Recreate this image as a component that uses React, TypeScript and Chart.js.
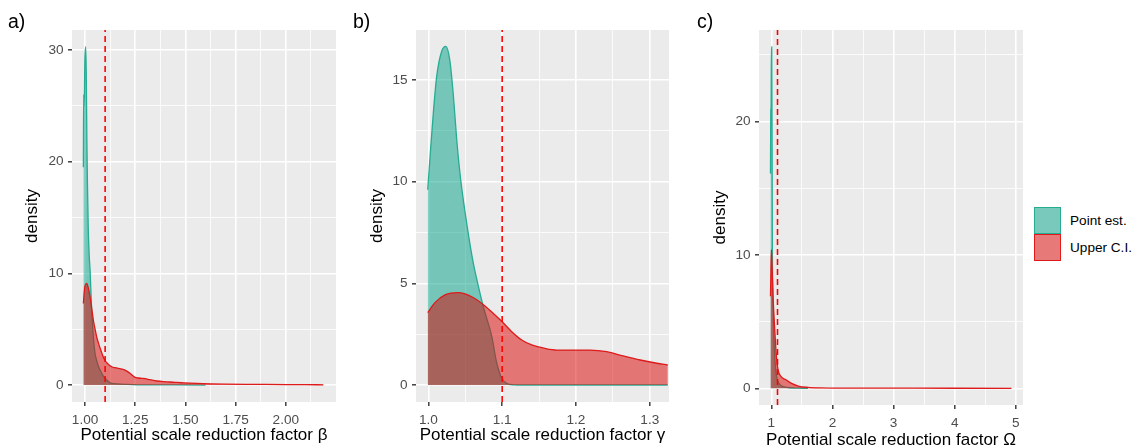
import React, { useEffect, useRef } from 'react';
import { Chart, registerables } from 'chart.js';

Chart.register(...registerables);

const FONT = '"Liberation Sans", Arial, Helvetica, sans-serif';

// ---------- shared ----------
const THRESHOLD = 1.1;
const SERIES_NAMES = ['Point est.', 'Upper C.I.'];
const PANEL_TAGS = ['a)', 'b)', 'c)'];

// ---------- panel a (beta) ----------
const A_POINT_X = [0.9917, 0.993, 0.996, 0.999, 1.003, 1.006, 1.009, 1.012, 1.016, 1.021, 1.025, 1.029, 1.033, 1.0415, 1.05, 1.058, 1.066, 1.075, 1.091, 1.108, 1.125, 1.15, 1.174, 1.21, 1.26, 1.35, 1.45, 1.6];
const A_POINT_Y = [19.5, 26, 25, 29, 30.3, 28, 22, 18, 14, 11.5, 10.3, 8.5, 6.7, 4.3, 2.8, 2.2, 1.7, 1.34, 0.8, 0.45, 0.2, 0.12, 0.09, 0.05, 0.02, 0.01, 0.005, 0];
const A_UPPER_X = [0.9917, 0.996, 1.0, 1.0083, 1.016, 1.025, 1.033, 1.0415, 1.05, 1.058, 1.066, 1.075, 1.083, 1.091, 1.1, 1.108, 1.12, 1.133, 1.15, 1.166, 1.183, 1.199, 1.212, 1.224, 1.237, 1.249, 1.265, 1.282, 1.3, 1.315, 1.335, 1.357, 1.39, 1.423, 1.455, 1.49, 1.556, 1.62, 1.7, 1.8, 1.9, 2.0, 2.1, 2.187];
const A_UPPER_Y = [7.3, 8.3, 8.9, 9.1, 8.7, 7.9, 6.9, 5.8, 5.0, 4.3, 3.8, 3.3, 2.9, 2.5, 2.2, 2.0, 1.8, 1.64, 1.55, 1.49, 1.43, 1.34, 1.2, 1.05, 0.85, 0.69, 0.63, 0.6, 0.57, 0.51, 0.43, 0.36, 0.3, 0.27, 0.23, 0.2, 0.15, 0.11, 0.08, 0.06, 0.05, 0.04, 0.03, 0.02];
const A_X_MAJOR = [1.0, 1.25, 1.5, 1.75, 2.0];
const A_X_LABELS = ['1.00', '1.25', '1.50', '1.75', '2.00'];
const A_X_MINOR = [1.125, 1.375, 1.625, 1.875, 2.125];
const A_Y_MAJOR = [0, 10, 20, 30];
const A_Y_LABELS = ['0', '10', '20', '30'];
const A_Y_MINOR = [5, 15, 25];
const A_X_LIMITS = [0.935, 2.25];
const A_Y_LIMITS = [-1.52, 31.8];
const A_X_TITLE = 'Potential scale reduction factor β';

// ---------- panel b (gamma) ----------
const B_POINT_X = [0.9992, 1.0023, 1.0068, 1.0114, 1.018, 1.0236, 1.029, 1.034, 1.0385, 1.0439, 1.0534, 1.061, 1.0669, 1.0745, 1.086, 1.0927, 1.0995, 1.106, 1.115, 1.13, 1.3244];
const B_POINT_Y = [9.6, 11.2, 13.4, 15.2, 16.4, 16.65, 16.0, 14.2, 12.05, 10.08, 7.62, 5.98, 5.0, 3.85, 2.38, 1.07, 0.33, 0.08, 0.01, 0, 0];
const B_UPPER_X = [0.9992, 1.009, 1.0226, 1.0407, 1.0588, 1.0768, 1.0904, 1.1003, 1.113, 1.1265, 1.14, 1.158, 1.174, 1.196, 1.219, 1.2417, 1.264, 1.287, 1.3095, 1.3244];
const B_UPPER_Y = [3.56, 4.05, 4.43, 4.54, 4.34, 3.89, 3.44, 3.1, 2.62, 2.21, 1.97, 1.8, 1.72, 1.72, 1.72, 1.64, 1.43, 1.23, 1.07, 0.98];
const B_X_MAJOR = [1.0, 1.1, 1.2, 1.3];
const B_X_LABELS = ['1.0', '1.1', '1.2', '1.3'];
const B_X_MINOR = [1.05, 1.15, 1.25];
const B_Y_MAJOR = [0, 5, 10, 15];
const B_Y_LABELS = ['0', '5', '10', '15'];
const B_Y_MINOR = [2.5, 7.5, 12.5];
const B_X_LIMITS = [0.9833, 1.326];
const B_Y_LIMITS = [-0.836, 17.46];
const B_X_TITLE = 'Potential scale reduction factor γ';

// ---------- panel c (omega) ----------
const C_POINT_X = [0.985, 0.99, 0.995, 1.0, 1.006, 1.012, 1.016, 1.025, 1.04, 1.06, 1.08, 1.11, 1.16, 1.25, 1.4, 1.6];
const C_POINT_Y = [16.1, 20.9, 21, 25.6, 25.6, 18, 10.4, 7, 4.0, 2.0, 1.0, 0.5, 0.2, 0.07, 0.02, 0];
const C_UPPER_X = [0.985, 0.993, 1.0, 1.01, 1.027, 1.055, 1.082, 1.11, 1.16, 1.2, 1.245, 1.29, 1.33, 1.44, 1.6, 1.8, 2.2, 3.0, 4.0, 4.93];
const C_UPPER_Y = [6.9, 9.0, 10.4, 9.2, 6.9, 4.4, 2.4, 1.37, 0.87, 0.72, 0.62, 0.48, 0.37, 0.17, 0.07, 0.03, 0.015, 0.01, 0.005, 0.003];
const C_X_MAJOR = [1, 2, 3, 4, 5];
const C_X_LABELS = ['1', '2', '3', '4', '5'];
const C_X_MINOR = [1.5, 2.5, 3.5, 4.5];
const C_Y_MAJOR = [0, 10, 20];
const C_Y_LABELS = ['0', '10', '20'];
const C_Y_MINOR = [5, 15, 25];
const C_X_LIMITS = [0.797, 5.118];
const C_Y_LIMITS = [-1.25, 26.87];
const C_X_TITLE = 'Potential scale reduction factor Ω';

// ---------- styling ----------
const TEAL_LINE = '#26AC93';
const TEAL_FILL = 'rgba(0,160,135,0.5)';
const RED_LINE = '#DE1A1A';
const RED_FILL = 'rgba(220,0,0,0.5)';
const VLINE_COLOR = '#FF0000';
const PANEL_BG = '#EBEBEB';

const pts = (xs: number[], ys: number[]) => xs.map((x, i) => ({ x, y: ys[i] }));
const near = (a: number, b: number) => Math.abs(a - b) < 1e-9;
const isIn = (arr: number[], v: number) => arr.some((m) => near(m, v));

const bgPlugin = {
  id: 'panelBg',
  beforeDraw(chart: any) {
    const { ctx, chartArea } = chart;
    if (!chartArea) return;
    ctx.save();
    ctx.fillStyle = PANEL_BG;
    ctx.fillRect(chartArea.left, chartArea.top, chartArea.right - chartArea.left, chartArea.bottom - chartArea.top);
    ctx.restore();
  },
};

type Panel = {
  pointX: number[]; pointY: number[]; upperX: number[]; upperY: number[];
  xMajor: number[]; xLabels: string[]; xMinor: number[];
  yMajor: number[]; yLabels: string[]; yMinor: number[];
  xLim: number[]; yLim: number[]; xTitle: string;
};

type Layout = { left: number; yAxisWidth: number; xAxisHeight: number; padRight: number; yTitlePad: number; xTitlePad: number };

function axisOptions(major: number[], minor: number[], labels: string[], lim: number[], isX: boolean, lay: Layout, title: string) {
  const all = [...major, ...minor].sort((a, b) => a - b);
  return {
    type: 'linear',
    min: lim[0],
    max: lim[1],
    afterBuildTicks: (s: any) => {
      s.ticks = all.map((v) => ({ value: v }));
    },
    afterFit: (s: any) => {
      if (isX) s.height = lay.xAxisHeight;
      else s.width = lay.yAxisWidth;
    },
    border: { display: false },
    grid: {
      color: '#FFFFFF',
      lineWidth: (c: any) => (c.tick && isIn(major, c.tick.value) ? 1.6 : 0.8),
      drawTicks: true,
      tickLength: 4,
      tickWidth: 1.4,
      tickColor: (c: any) => (c.tick && isIn(major, c.tick.value) ? '#333333' : 'rgba(0,0,0,0)'),
    },
    ticks: {
      autoSkip: false,
      maxRotation: 0,
      minRotation: 0,
      padding: isX ? 6 : 4.5,
      color: '#4D4D4D',
      font: { family: FONT, size: 13.6 },
      callback: (v: any) => {
        const i = major.findIndex((m) => near(m, Number(v)));
        return i >= 0 ? labels[i] : '';
      },
    },
    title: {
      display: true,
      text: title,
      color: '#000000',
      font: { family: FONT, size: 17 },
      padding: isX ? { top: 0, bottom: lay.xTitlePad } : { top: lay.yTitlePad, bottom: 0 },
    },
  };
}

function DensityPanel({ panel, lay }: { panel: Panel; lay: Layout }) {
  const ref = useRef<HTMLCanvasElement | null>(null);
  useEffect(() => {
    if (!ref.current) return;
    const chart = new Chart(ref.current, {
      type: 'line',
      data: {
        datasets: [
          {
            label: 'threshold',
            data: [
              { x: THRESHOLD, y: panel.yLim[0] },
              { x: THRESHOLD, y: panel.yLim[1] },
            ],
            borderColor: VLINE_COLOR,
            borderWidth: 1.6,
            borderDash: [6, 4],
            pointRadius: 0,
            fill: false,
            order: 0,
          },
          {
            label: SERIES_NAMES[1],
            data: pts(panel.upperX, panel.upperY),
            borderColor: RED_LINE,
            backgroundColor: RED_FILL,
            borderWidth: 1.3,
            pointRadius: 0,
            fill: 'origin',
            cubicInterpolationMode: 'monotone',
            order: 1,
          },
          {
            label: SERIES_NAMES[0],
            data: pts(panel.pointX, panel.pointY),
            borderColor: TEAL_LINE,
            backgroundColor: TEAL_FILL,
            borderWidth: 1.3,
            pointRadius: 0,
            fill: 'origin',
            cubicInterpolationMode: 'monotone',
            order: 2,
          },
        ],
      } as any,
      options: {
        responsive: false,
        animation: false,
        devicePixelRatio: 1,
        layout: { padding: { top: 30, right: lay.padRight, bottom: 0, left: 0 } },
        plugins: { legend: { display: false }, tooltip: { enabled: false } },
        scales: {
          x: axisOptions(panel.xMajor, panel.xMinor, panel.xLabels, panel.xLim, true, lay, panel.xTitle),
          y: axisOptions(panel.yMajor, panel.yMinor, panel.yLabels, panel.yLim, false, lay, 'density'),
        },
      } as any,
      plugins: [bgPlugin],
    });
    return () => chart.destroy();
  }, []);
  return (
    <canvas
      ref={ref}
      width={340}
      height={447}
      style={{ position: 'absolute', left: lay.left, top: 0, width: 340, height: 447 }}
    />
  );
}

const PANELS: Panel[] = [
  { pointX: A_POINT_X, pointY: A_POINT_Y, upperX: A_UPPER_X, upperY: A_UPPER_Y, xMajor: A_X_MAJOR, xLabels: A_X_LABELS, xMinor: A_X_MINOR, yMajor: A_Y_MAJOR, yLabels: A_Y_LABELS, yMinor: A_Y_MINOR, xLim: A_X_LIMITS, yLim: A_Y_LIMITS, xTitle: A_X_TITLE },
  { pointX: B_POINT_X, pointY: B_POINT_Y, upperX: B_UPPER_X, upperY: B_UPPER_Y, xMajor: B_X_MAJOR, xLabels: B_X_LABELS, xMinor: B_X_MINOR, yMajor: B_Y_MAJOR, yLabels: B_Y_LABELS, yMinor: B_Y_MINOR, xLim: B_X_LIMITS, yLim: B_Y_LIMITS, xTitle: B_X_TITLE },
  { pointX: C_POINT_X, pointY: C_POINT_Y, upperX: C_UPPER_X, upperY: C_UPPER_Y, xMajor: C_X_MAJOR, xLabels: C_X_LABELS, xMinor: C_X_MINOR, yMajor: C_Y_MAJOR, yLabels: C_Y_LABELS, yMinor: C_Y_MINOR, xLim: C_X_LIMITS, yLim: C_Y_LIMITS, xTitle: C_X_TITLE },
];

const LAYOUTS: Layout[] = [
  { left: 0, yAxisWidth: 72, xAxisHeight: 45, padRight: 4, yTitlePad: 22, xTitlePad: 1 },
  { left: 340, yAxisWidth: 76, xAxisHeight: 45, padRight: 11, yTitlePad: 27, xTitlePad: 1 },
  { left: 690, yAxisWidth: 69, xAxisHeight: 42, padRight: 7, yTitlePad: 20.3, xTitlePad: -4 },
];

const TAG_LEFT = [8, 353, 697];

export default function App() {
  const keyStyle = (line: string, fill: string, top: number): React.CSSProperties => ({
    position: 'absolute',
    left: 1034,
    top,
    width: 27,
    height: 27,
    boxSizing: 'border-box',
    border: `1.5px solid ${line}`,
    background: `linear-gradient(${fill}, ${fill}), #F2F2F2`,
  });
  const textStyle = (top: number): React.CSSProperties => ({
    position: 'absolute',
    left: 1070,
    top,
    height: 27,
    lineHeight: '27px',
    fontFamily: FONT,
    fontSize: 13.6,
    color: '#000',
    whiteSpace: 'nowrap',
  });
  return (
    <div style={{ position: 'absolute', left: 0, top: 0, width: 1138, height: 447, background: '#FFFFFF', overflow: 'hidden' }}>
      {PANELS.map((p, i) => (
        <DensityPanel key={i} panel={p} lay={LAYOUTS[i]} />
      ))}
      {PANEL_TAGS.map((t, i) => (
        <div
          key={t}
          style={{ position: 'absolute', left: TAG_LEFT[i], top: 11.5, fontFamily: FONT, fontSize: 19.5, lineHeight: 1, color: '#000' }}
        >
          {t}
        </div>
      ))}
      <div style={keyStyle(TEAL_LINE, TEAL_FILL, 206.5)} />
      <div style={keyStyle(RED_LINE, RED_FILL, 234)} />
      <div style={textStyle(206.5)}>{SERIES_NAMES[0]}</div>
      <div style={textStyle(234)}>{SERIES_NAMES[1]}</div>
    </div>
  );
}
